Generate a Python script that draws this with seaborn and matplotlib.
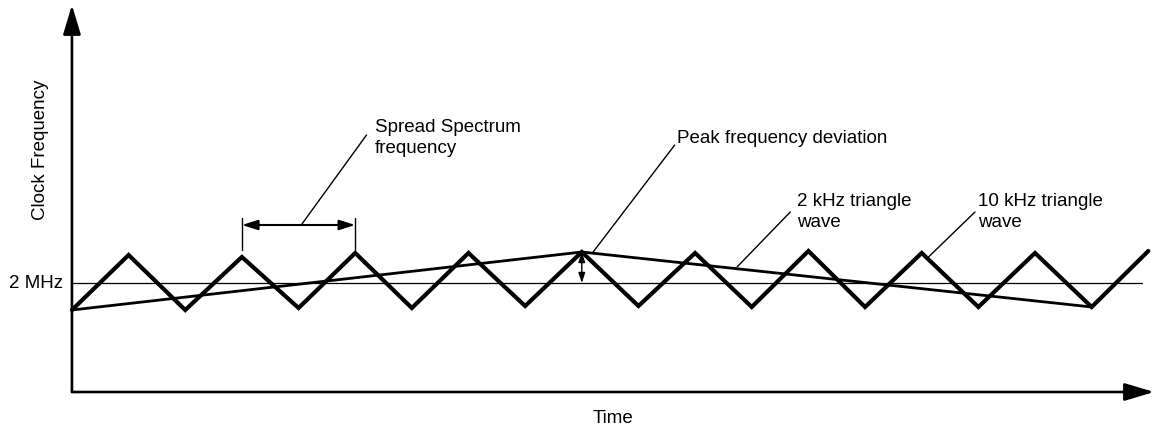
import matplotlib
matplotlib.use("Agg")
import matplotlib.pyplot as plt
import seaborn as sns
import pandas as pd

# Data (time in microseconds, frequency in MHz) - schematic spread spectrum clock
fast_t = [0, 50, 100, 150, 200, 250, 300, 350, 400, 450,
          500, 550, 600, 650, 700, 750, 800, 850, 900, 950]
fast_f = [1.973, 2.028, 1.973, 2.026, 1.975, 2.030, 1.975, 2.030, 1.977, 2.031,
          1.977, 2.030, 1.976, 2.032, 1.976, 2.030, 1.976, 2.030, 1.976, 2.032]
slow_t = [0, 450, 900]
slow_f = [1.973, 2.031, 1.976]
center_f = 2.0

labels = {
    "y": "Clock Frequency",
    "x": "Time",
    "center": "2 MHz",
    "spread": "Spread Spectrum\nfrequency",
    "peak": "Peak frequency deviation",
    "slow": "2 kHz triangle\nwave",
    "fast": "10 kHz triangle\nwave",
}

sns.set_theme(style="white")
plt.rcParams["font.family"] = ["Liberation Sans", "DejaVu Sans"]
plt.rcParams["text.color"] = "black"

fig = plt.figure(figsize=(11.55, 4.3), dpi=100)
ax = fig.add_axes([0, 0, 1, 1])
ax.set_xlim(-63.5, 955.9)
ax.set_ylim(1.853, 2.283)
ax.set_axis_off()

fs = 13.5
lsp = 1.33
x_axis_f = 1.891

# axes with arrow heads
axis_arrow = dict(arrowstyle="-|>,head_length=1.0,head_width=0.3", mutation_scale=18,
                  lw=1.9, color="black", shrinkA=0, shrinkB=0)
ax.annotate("", xy=(955, x_axis_f), xytext=(0, x_axis_f), arrowprops=axis_arrow)
ax.annotate("", xy=(0, 2.278), xytext=(0, x_axis_f), arrowprops=axis_arrow)

# 2 MHz reference line
ax.plot([0, 944], [center_f, center_f], color="black", lw=0.9, zorder=1)

df_fast = pd.DataFrame({"t": fast_t, "f": fast_f})
df_slow = pd.DataFrame({"t": slow_t, "f": slow_f})
sns.lineplot(data=df_fast, x="t", y="f", ax=ax, color="black", lw=3.0,
             solid_joinstyle="miter", zorder=3)
sns.lineplot(data=df_slow, x="t", y="f", ax=ax, color="black", lw=2.0,
             solid_joinstyle="miter", zorder=3)

# spread spectrum dimension (between two fast peaks)
p1, p2 = fast_t[3], fast_t[5]
ax.plot([p1, p1], [2.033, 2.065], color="black", lw=1.0)
ax.plot([p2, p2], [2.033, 2.065], color="black", lw=1.0)
ax.annotate("", xy=(p1, 2.058), xytext=(p2, 2.058),
            arrowprops=dict(arrowstyle="<|-|>,head_length=0.95,head_width=0.3",
                            mutation_scale=10, lw=1.5, color="black",
                            shrinkA=0, shrinkB=0))

# peak deviation double arrow
pk_t = slow_t[1]
ax.annotate("", xy=(pk_t, slow_f[1]), xytext=(pk_t, center_f),
            arrowprops=dict(arrowstyle="<|-|>,head_length=0.6,head_width=0.2",
                            mutation_scale=10, lw=1.0, color="black",
                            shrinkA=0, shrinkB=0))

# leaders
leader = dict(color="black", lw=1.0)
ax.plot([203, 260], [2.059, 2.148], **leader)
ax.plot([460, 532], [2.031, 2.138], **leader)
ax.plot([587, 634], [2.016, 2.071], **leader)
ax.plot([756, 797], [2.026, 2.071], **leader)

# texts (va="baseline" on multi-line text refers to the last line)
ax.text(267.4, 2.130, labels["spread"], fontsize=fs, ha="left", va="baseline", linespacing=lsp)
ax.text(534, 2.140, labels["peak"], fontsize=fs, ha="left", va="baseline")
ax.text(640, 2.056, labels["slow"], fontsize=fs, ha="left", va="baseline", linespacing=lsp)
ax.text(800, 2.056, labels["fast"], fontsize=fs, ha="left", va="baseline", linespacing=lsp)
ax.text(477.5, 1.860, labels["x"], fontsize=fs, ha="center", va="baseline")
ax.text(-8, 1.995, labels["center"], fontsize=fs, ha="right", va="baseline")
ax.text(-27.4, 2.133, labels["y"], fontsize=fs, ha="center", va="center", rotation=90)

fig.savefig("out.png", dpi=100, facecolor="white")
